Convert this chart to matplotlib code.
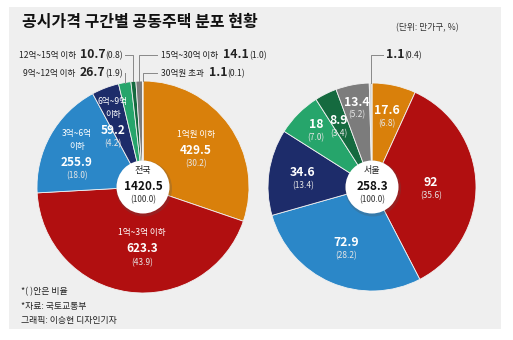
import matplotlib
matplotlib.use("Agg")
import matplotlib.pyplot as plt
from matplotlib.patches import Rectangle, Circle
import numpy as np

plt.rcParams['font.family'] = ['Noto Sans CJK KR', 'DejaVu Sans']

# 구간 (공시가격)
bands = ['1억원 이하', '1억~3억 이하', '3억~6억 이하', '6억~9억 이하',
         '9억~12억 이하', '12억~15억 이하', '15억~30억 이하', '30억원 초과']

# 전국 (만가구, %)
nation_vals = [429.5, 623.3, 255.9, 59.2, 26.7, 10.7, 14.1, 1.1]
nation_pct = [30.2, 43.9, 18.0, 4.2, 1.9, 0.8, 1.0, 0.1]
nation_total = '1420.5'

# 서울 (만가구, %)
seoul_vals = [17.6, 92, 72.9, 34.6, 18, 8.9, 13.4, 1.1]
seoul_pct = [6.8, 35.6, 28.2, 13.4, 7.0, 3.4, 5.2, 0.4]
seoul_total = '258.3'

colors = ['#d9800b', '#b10f10', '#2b87c8', '#1d2c6a',
          '#26a56b', '#156a3f', '#7c7c7c', '#d6d6d6']

W, H = 513, 340
fig = plt.figure(figsize=(W / 100, H / 100), dpi=100, facecolor='white')
ax = fig.add_axes([0, 0, 1, 1])

# 배경 패널
ax.add_patch(Rectangle((9, 7), 492, 322, facecolor='#efefef', edgecolor='none', zorder=0))

c1, r1 = (143, 187), 106
c2, r2 = (372, 187), 104

# y축을 뒤집었으므로 startangle=-90 + 반시계 = 화면상 12시부터 시계방향
for vals, c, r in [(nation_vals, c1, r1), (seoul_vals, c2, r2)]:
    ax.pie(vals, colors=colors, center=c, radius=r, startangle=-90,
           counterclock=True,
           wedgeprops=dict(edgecolor='#f2f2f2', linewidth=0.6))

ax.set_xlim(0, W)
ax.set_ylim(H, 0)
ax.set_aspect('equal', adjustable='box')
ax.axis('off')

# 가운데 원 (그림자 포함)
for c, tot, name in [(c1, nation_total, '전국'), (c2, seoul_total, '서울')]:
    ax.add_patch(Circle((c[0] + 1, c[1] + 1.5), 28, facecolor='#555555', alpha=0.25,
                        edgecolor='none', zorder=3))
    ax.add_patch(Circle(c, 26.5, facecolor='white', edgecolor='none', zorder=4))
    ax.text(c[0], c[1] - 16, name, ha='center', va='center', fontsize=6.5, color='#222222', zorder=5)
    ax.text(c[0], c[1] - 1, tot, ha='center', va='center', fontsize=8.5, fontweight='bold',
            color='#111111', zorder=5)
    ax.text(c[0], c[1] + 13, '(100.0)', ha='center', va='center', fontsize=6, color='#333333', zorder=5)

pct_color = '#e6e6e6'


def wedge_label(x, y, val, pct, name_lines=(), dy=13.5):
    for i, ln in enumerate(name_lines):
        ax.text(x, y - 16 - (len(name_lines) - 1 - i) * 12.5, ln, ha='center', va='center',
                fontsize=6.2, color='white', zorder=5)
    ax.text(x, y, f'{val:g}', ha='center', va='center', fontsize=8.5, fontweight='bold',
            color='white', zorder=5)
    ax.text(x, y + dy, f'({pct:.1f})', ha='center', va='center', fontsize=6,
            color=pct_color, zorder=5)


# 전국 조각 라벨
nation_pos = {0: (196, 150, ['1억원 이하']),
              1: (142, 249, ['1억~3억 이하']),
              2: (77, 162, ['3억~6억', '이하']),
              3: (113, 130, ['6억~9억', '이하'])}
for i, (x, y, nm) in nation_pos.items():
    wedge_label(x, y, nation_vals[i], nation_pct[i], nm)

# 서울 조각 라벨
seoul_pos = {0: (387, 111), 1: (431, 183), 2: (346, 243), 3: (303, 173),
             4: (316, 125), 5: (339, 121), 6: (357, 102)}
for i, (x, y) in seoul_pos.items():
    ax.text(x, y, f'{seoul_vals[i]:g}', ha='center', va='center', fontsize=8.8,
            fontweight='bold', color='white', zorder=5)
    ax.text(x, y + 13, f'({seoul_pct[i]:.1f})', ha='center', va='center', fontsize=6,
            color=pct_color, zorder=5)

renderer = fig.canvas.get_renderer()


def run_text(parts, x, y, ha='left'):
    """이어붙인 텍스트 (크기/굵기 혼합), y는 기준선"""
    objs = []
    for s, size, weight, gap in parts:
        t = ax.text(0, y, s, fontsize=size, fontweight=weight, va='baseline',
                    ha='left', color='#222222', zorder=5)
        objs.append((t, gap))
    widths = [t.get_window_extent(renderer).width for t, _ in objs]
    total = sum(widths) + sum(g for _, g in objs)
    cur = x - total if ha == 'right' else x
    for (t, gap), w in zip(objs, widths):
        cur += gap
        t.set_x(cur)
        cur += w


def mid_point(vals, k, c, r):
    tot = sum(vals)
    f = (sum(vals[:k]) + vals[k] / 2) / tot
    phi = 2 * np.pi * f
    return c[0] + r * np.sin(phi), c[1] - r * np.cos(phi)


line_kw = dict(color='#888888', lw=0.7, zorder=2)

# 전국 소형 조각 지시선
left_items = [(5, 58), (4, 76)]
right_items = [(6, 58), (7, 76)]
for k, yb in left_items:
    px, py = mid_point(nation_vals, k, c1, r1)
    run_text([(bands[k], 6.2, 'normal', 0), (f'{nation_vals[k]:g}', 8.8, 'bold', 4),
              (f'({nation_pct[k]:.1f})', 6.2, 'normal', 0)], 123, yb, ha='right')
    ax.plot([px, px, 125], [py, yb - 3, yb - 3], **line_kw)
for k, yb in right_items:
    px, py = mid_point(nation_vals, k, c1, r1)
    run_text([(bands[k], 6.2, 'normal', 0), (f'{nation_vals[k]:g}', 8.8, 'bold', 5),
              (f'({nation_pct[k]:.1f})', 6.2, 'normal', 0)], 161, yb)
    ax.plot([px, px, 157], [py, yb - 3, yb - 3], **line_kw)

# 서울 30억 초과 지시선
px, py = mid_point(seoul_vals, 7, c2, r2)
ax.plot([px, px, 383], [py, 55, 55], **line_kw)
run_text([(f'{seoul_vals[7]:g}', 8.8, 'bold', 0), (f'({seoul_pct[7]:.1f})', 6.2, 'normal', 0)], 386, 58)

# 제목
ax.text(22, 22, '공시가격 구간별 공동주택 분포 현황', fontsize=11.5, fontweight='bold',
        ha='left', va='center', color='#111111')
ax.text(396, 28, '(단위: 만가구, %)', fontsize=6.3, ha='left', va='center', color='#333333')

# 주석
for i, s in enumerate(['*( )안은 비율', '*자료: 국토교통부', '그래픽: 이승현 디자인기자']):
    ax.text(21, 292 + i * 14, s, fontsize=6.4, ha='left', va='center', color='#222222')

fig.savefig('out.png', dpi=100, facecolor='white')
